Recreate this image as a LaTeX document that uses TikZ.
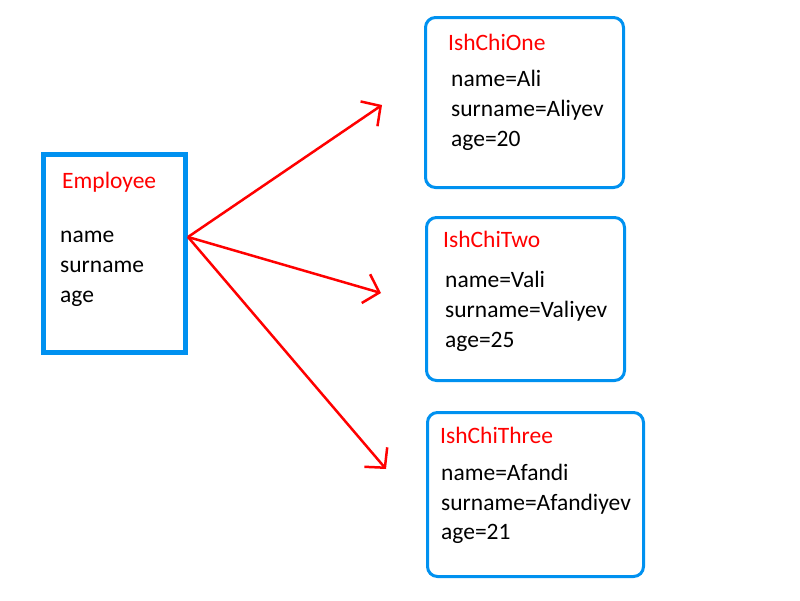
\documentclass[tikz,border=0pt]{standalone}
\usepackage{fontspec}
\setmainfont{Carlito}
\usetikzlibrary{arrows.meta}
\definecolor{boxblue}{RGB}{0,145,240}
\definecolor{arrred}{RGB}{255,0,0}
\tikzset{
  classbox/.style={draw=boxblue, line width=5pt, minimum width=142pt, minimum height=198pt, inner sep=0pt},
  objbox/.style={draw=boxblue, line width=3pt, rounded corners=10pt, inner sep=0pt},
  ttl/.style={anchor=base west, inner sep=0pt, text=arrred, font=\fontsize{23.5}{28}\selectfont},
  txt/.style={anchor=base west, inner sep=0pt, text=black, font=\fontsize{23.5}{28}\selectfont},
  link/.style={draw=arrred, line width=2.5pt, -{Straight Barb[length=14pt,width=30pt,line width=2.5pt]}}
}
\begin{document}
\begin{tikzpicture}[x=1pt,y=-1pt]
\useasboundingbox[fill=white] (0,0) rectangle (800,600);
% Employee
\node[classbox] (emp) at (114,253) {};
\node[ttl] (empt) at (62,188) {Employee};
\node[txt] (emp1) at (60,242) {name};
\node[txt] (emp2) at (60,272) {surname};
\node[txt] (emp3) at (60,302) {age};
% One
\node[objbox, minimum width=198pt, minimum height=170pt] (one) at (524.5,102.5) {};
\node[ttl] (onet) at (448,50) {IshChiOne};
\node[txt] (one1) at (451,86) {name=Ali};
\node[txt] (one2) at (451,116) {surname=Aliyev};
\node[txt] (one3) at (451,146) {age=20};
% Two
\node[objbox, minimum width=198pt, minimum height=163pt] (two) at (525.5,299) {};
\node[ttl] (twot) at (443,247) {IshChiTwo};
\node[txt] (two1) at (445,287) {name=Vali};
\node[txt] (two2) at (445,317) {surname=Valiyev};
\node[txt] (two3) at (445,347) {age=25};
% Three
\node[objbox, minimum width=216pt, minimum height=164pt] (three) at (535.5,494.5) {};
\node[ttl] (threet) at (440,443) {IshChiThree};
\node[txt] (three1) at (441,480) {name=Afandi};
\node[txt] (three2) at (441,510) {surname=Afandiyev};
\node[txt] (three3) at (441,539) {age=21};
% arrows
\coordinate (src) at (188,237);
\coordinate (e1) at (382,105);
\coordinate (e2) at (381,293);
\coordinate (e3) at (386,469);
\draw[link] (src) -- (e1);
\draw[link] (src) -- (e2);
\draw[link] (src) -- (e3);
\end{tikzpicture}
\end{document}
